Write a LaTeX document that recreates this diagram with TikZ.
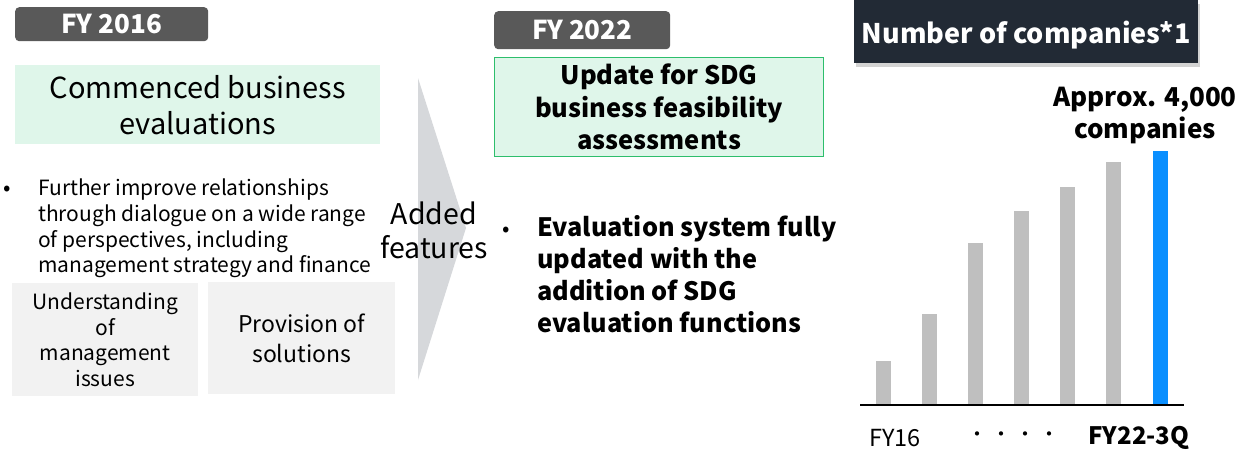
\documentclass[tikz,border=0pt]{standalone}
\usepackage{fontspec}
\setmainfont{Noto Sans CJK JP}
\usetikzlibrary{positioning,shadows}
\definecolor{tagGray}{HTML}{595959}
\definecolor{mintFill}{HTML}{DFF6EA}
\definecolor{mintLine}{HTML}{2DBE6C}
\definecolor{paleGray}{HTML}{F2F2F2}
\definecolor{arrowGray}{HTML}{D6D8DB}
\definecolor{navyHead}{HTML}{222A35}
\definecolor{barGray}{HTML}{BFBFBF}
\definecolor{barBlue}{HTML}{0A8FFF}
\tikzset{
  yeartag/.style={fill=tagGray,rounded corners=4pt,text=white,anchor=north west,
    inner sep=0pt,text height=21pt,text depth=2pt,font=\bfseries\fontsize{26}{28}\selectfont},
  mintbox/.style={fill=mintFill,anchor=north west,inner sep=0pt,align=center},
  palebox/.style={fill=paleGray,anchor=north west,inner sep=0pt,align=center},
  bullettext/.style={anchor=north west,inner sep=0pt,align=left},
  bulletdot/.style={inner sep=0pt,font=\fontsize{22}{24}\selectfont}
}
\begin{document}
\begin{tikzpicture}[x=1pt,y=-1pt]
  \useasboundingbox (0,0) rectangle (1242,455);

  % FY 2016 column
  \node[yeartag,minimum width=193,minimum height=34] (fy16) at (15,7) {FY 2016};
  \node[mintbox,minimum width=365,minimum height=79,
    font=\fontsize{29}{36}\selectfont] (commenced) at (15,65)
    {Commenced business\\evaluations};
  \node[bulletdot] (dotA) at (7,191) {•};
  \node[bullettext,font=\fontsize{21}{25.6}\selectfont] (improve) at (38,179)
    {Further improve relationships\\through dialogue on a wide range\\of perspectives, including\\management strategy and finance};
  \node[palebox,minimum width=186,minimum height=113,
    font=\fontsize{21}{25.6}\selectfont] (issues) at (12,283)
    {Understanding\\of\\management\\issues};
  \node[palebox,minimum width=187,minimum height=112,
    font=\fontsize{23}{30}\selectfont] (solutions) at (208,282)
    {Provision of\\solutions};

  % arrow between the two years
  \fill[arrowGray] (418,78) -- (466,228) -- (418,380) -- cycle;
  \node[align=center,inner sep=0pt,font=\fontsize{28.5}{34}\selectfont] (added) at (434,230)
    {Added\\features};

  % FY 2022 column
  \node[yeartag,minimum width=176,minimum height=38] (fy22) at (494,11) {FY 2022};
  \node[mintbox,draw=mintLine,line width=1.2pt,minimum width=329,minimum height=99,
    font=\bfseries\fontsize{25.5}{32.5}\selectfont] (update) at (494,57)
    {Update for SDG\\business feasibility\\assessments};
  \node[bulletdot] (dotB) at (506,232) {•};
  \node[bullettext,font=\bfseries\fontsize{25.3}{32.2}\selectfont] (system) at (537,215)
    {Evaluation system fully\\updated with the\\addition of SDG\\evaluation functions};

  % number of companies
  \node[fill=navyHead,text=white,anchor=north west,inner sep=0pt,
    minimum width=344,minimum height=63,text height=27pt,text depth=4pt,
    font=\bfseries\fontsize{27}{28}\selectfont,
    drop shadow={opacity=0.35,shadow xshift=2pt,shadow yshift=-4pt}] (head) at (854,0)
    {Number of companies*1};
  \node[align=center,inner sep=0pt,font=\bfseries\fontsize{26}{32}\selectfont] (approx) at (1145,116)
    {Approx. 4,000\\companies};
  \foreach \i/\top in {0/361,1/314,2/243,3/211,4/187,5/162}
    \fill[barGray] (876+46*\i,\top) rectangle (891+46*\i,405);
  \fill[barBlue] (1153,151) rectangle (1168,405);
  \coordinate (axisL) at (860,405);
  \coordinate (axisR) at (1184,405);
  \draw[line width=1.2pt] (axisL) -- (axisR);
  \node[inner sep=0pt,font=\fontsize{23.5}{24}\selectfont] (fyfirst) at (895,438) {FY16};
  \node[inner sep=0pt,font=\fontsize{20}{24}\selectfont] (dots) at (1013,437)
    {・\hspace{4pt}・\hspace{4pt}・\hspace{4pt}・};
  \node[inner sep=0pt,font=\bfseries\fontsize{24}{24}\selectfont] (fylast) at (1139,438) {FY22-3Q};
\end{tikzpicture}
\end{document}
